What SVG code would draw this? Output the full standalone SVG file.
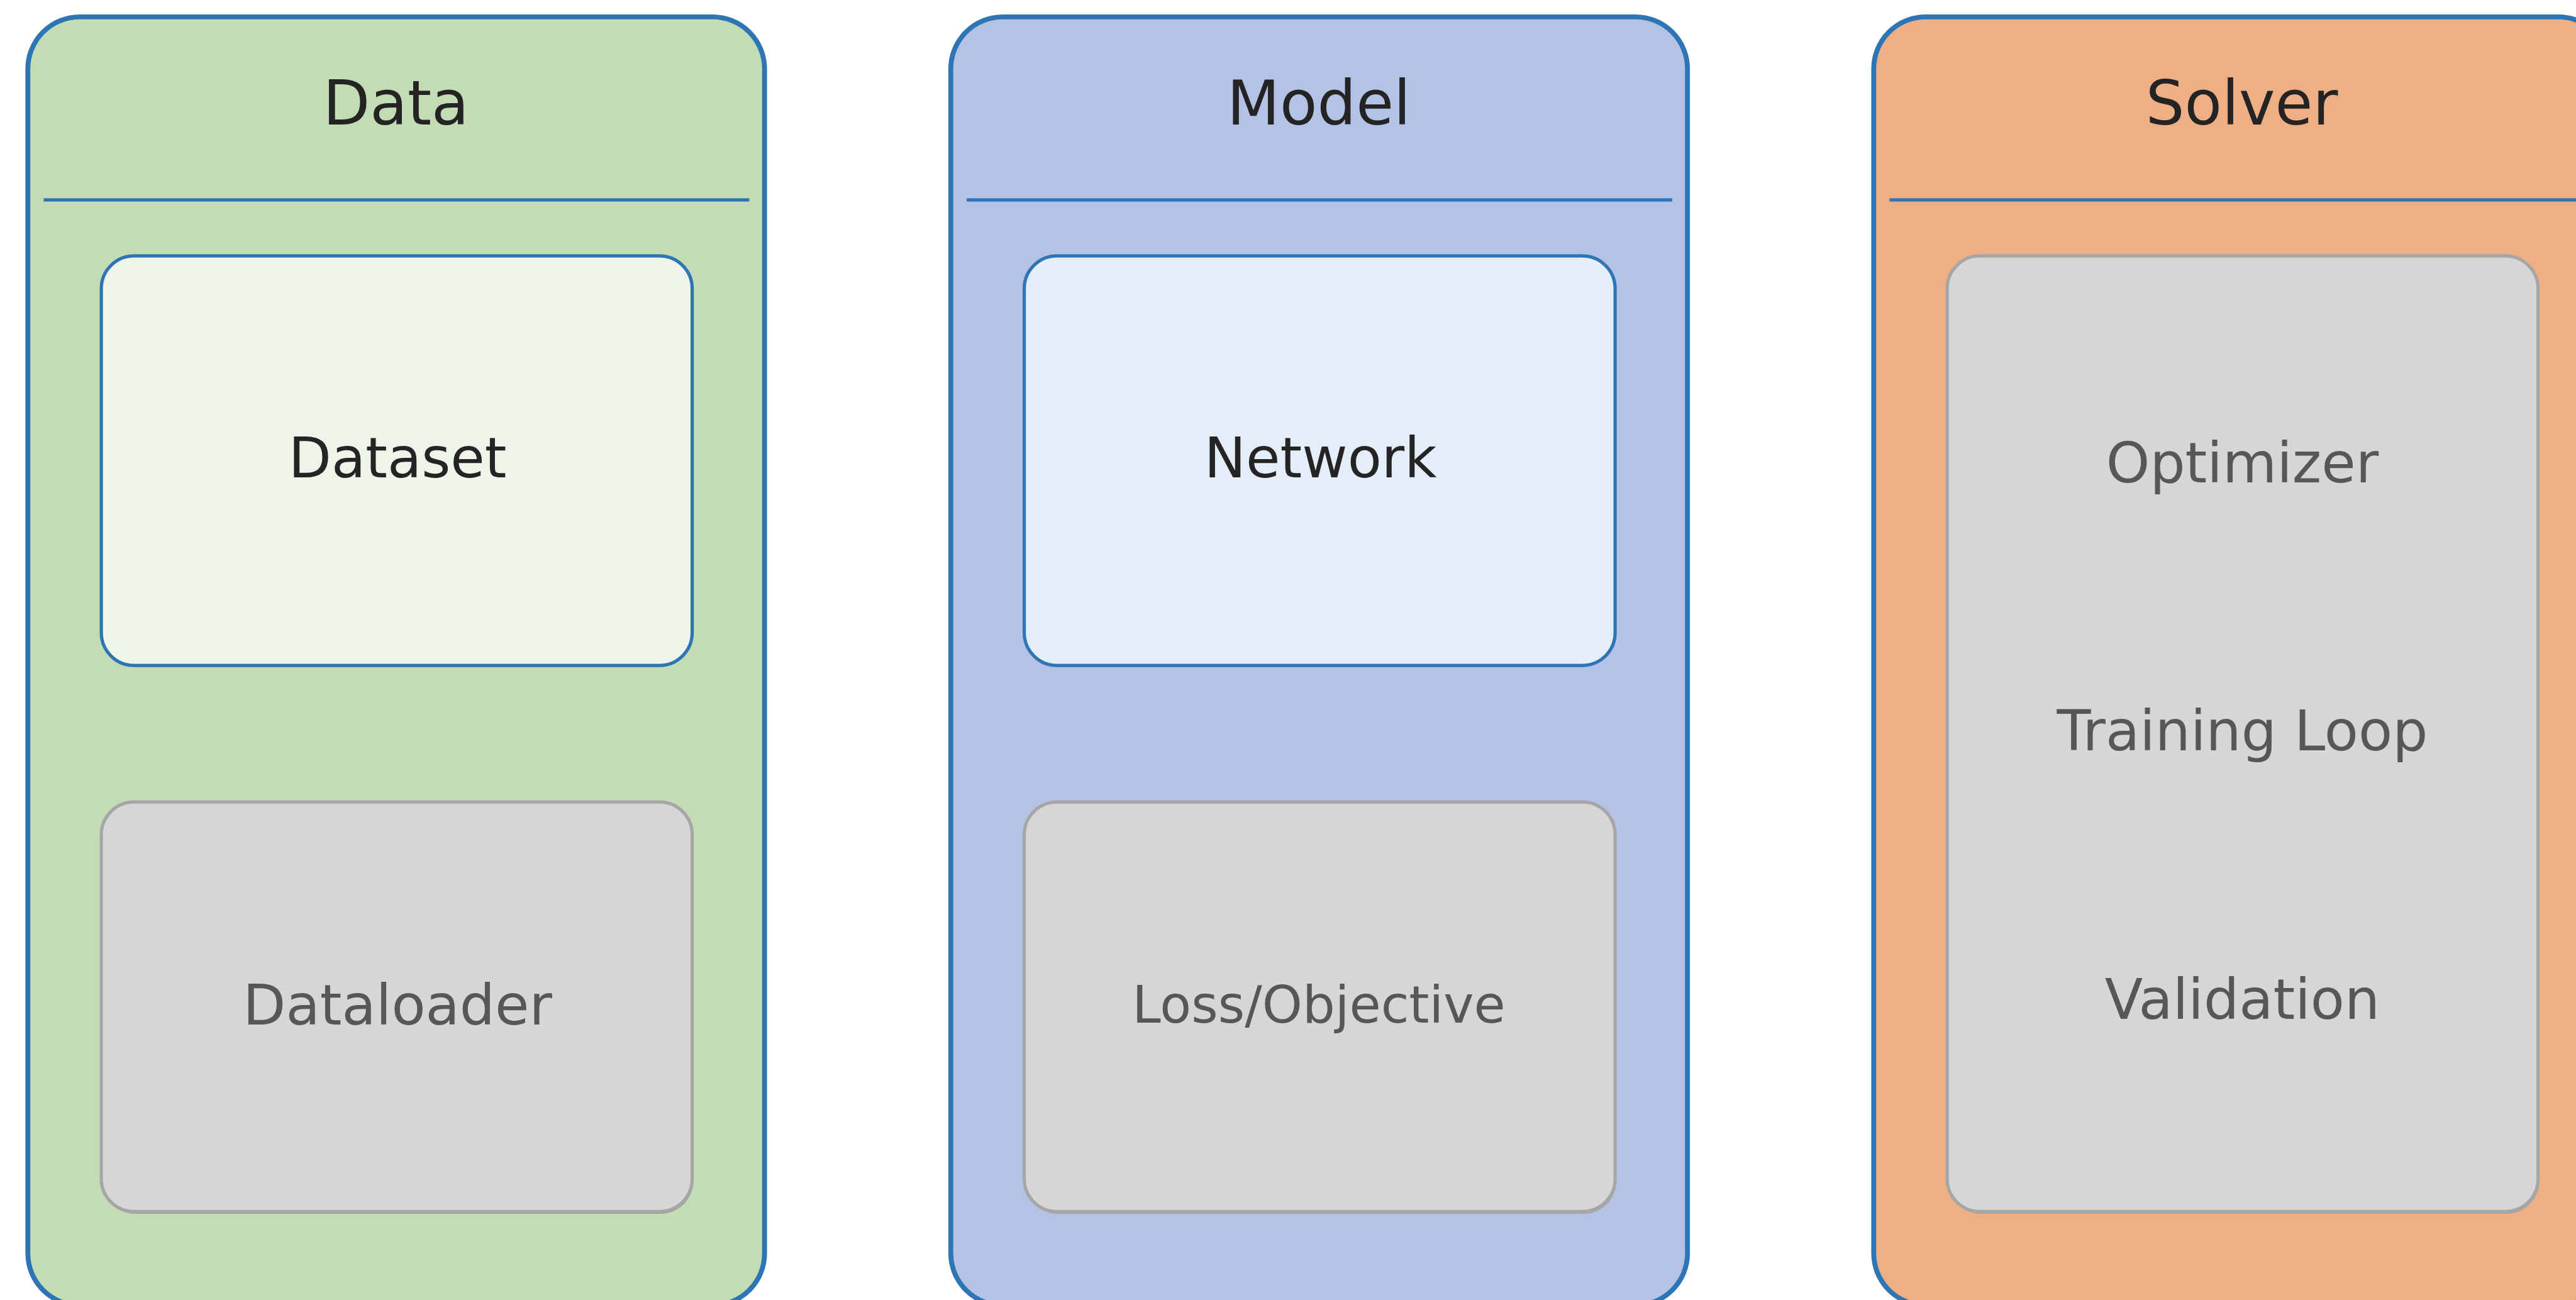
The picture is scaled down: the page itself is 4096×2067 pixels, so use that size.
<svg xmlns="http://www.w3.org/2000/svg" width="4096" height="2067" viewBox="0 0 4096 2067">
  <style>
    .panel { stroke: #2e75b6; stroke-width: 9; }
    .divider { stroke: #2e75b6; stroke-width: 6; }
    .title { font-family: "DejaVu Sans", "Liberation Sans", sans-serif; font-size: 112px; fill: #242424; text-anchor: middle; }
    .label { font-family: "DejaVu Sans", "Liberation Sans", sans-serif; font-size: 102px; text-anchor: middle; }
    .active { stroke: #2e75b6; stroke-width: 6; }
    .active-text { fill: #242424; }
    .muted { fill: #d6d6d6; stroke: #a6a6a6; stroke-width: 6; }
    .muted-text { fill: #575757; }
    .shadow { fill: #a3a3a3; }
  </style>
  <rect width="4096" height="2067" fill="#ffffff"/>
  <!-- laid out on a 4717-wide grid, scaled to the canvas -->
  <g transform="scale(0.86835) translate(-2 0)">
    <g id="connectors"/>

    <!-- Data column -->
    <g id="data">
      <rect class="panel" x="53" y="31" width="1349" height="2359" rx="95" fill="#c4dcb4"/>
      <line class="divider" x1="82" y1="366" x2="1374" y2="366"/>
      <text class="title" x="727" y="228">Data</text>
    </g>
    <g id="dataset">
      <rect class="active" x="187.5" y="468.5" width="1082" height="750" rx="60" fill="#eef4ea"/>
      <text class="label active-text" x="730" y="874">Dataset</text>
    </g>
    <g id="dataloader">
      <rect class="shadow" x="189.5" y="1472.5" width="1082" height="750" rx="60"/>
      <rect class="muted" x="187.5" y="1468.5" width="1082" height="750" rx="60"/>
      <text class="label muted-text" x="730" y="1876">Dataloader</text>
    </g>

    <!-- Model column -->
    <g id="model">
      <rect class="panel" x="1743" y="31" width="1349" height="2359" rx="95" fill="#b4c3e5"/>
      <line class="divider" x1="1772" y1="366" x2="3064" y2="366"/>
      <text class="title" x="2417" y="228">Model</text>
    </g>
    <g id="network">
      <rect class="active" x="1877.5" y="468.5" width="1082" height="750" rx="60" fill="#e4eef8"/>
      <text class="label active-text" x="2420" y="874">Network</text>
    </g>
    <g id="loss">
      <rect class="shadow" x="1879.5" y="1472.5" width="1082" height="750" rx="60"/>
      <rect class="muted" x="1877.5" y="1468.5" width="1082" height="750" rx="60"/>
      <text class="label muted-text" x="2417" y="1872" style="font-size:94px">Loss/Objective</text>
    </g>

    <!-- Solver column -->
    <g id="solver">
      <rect class="panel" x="3433" y="31" width="1349" height="2359" rx="95" fill="#eeaf85"/>
      <line class="divider" x1="3462" y1="366" x2="4754" y2="366"/>
      <text class="title" x="4107" y="228">Solver</text>
    </g>
    <g id="solver-steps">
      <rect class="shadow" x="3569.5" y="472.5" width="1082" height="1750" rx="60"/>
      <rect class="muted" x="3567.5" y="468.5" width="1082" height="1750" rx="60"/>
      <text class="label muted-text" x="4108" y="883">Optimizer</text>
      <text class="label muted-text" x="4108" y="1374">Training Loop</text>
      <text class="label muted-text" x="4108" y="1866">Validation</text>
    </g>
  </g>
</svg>
